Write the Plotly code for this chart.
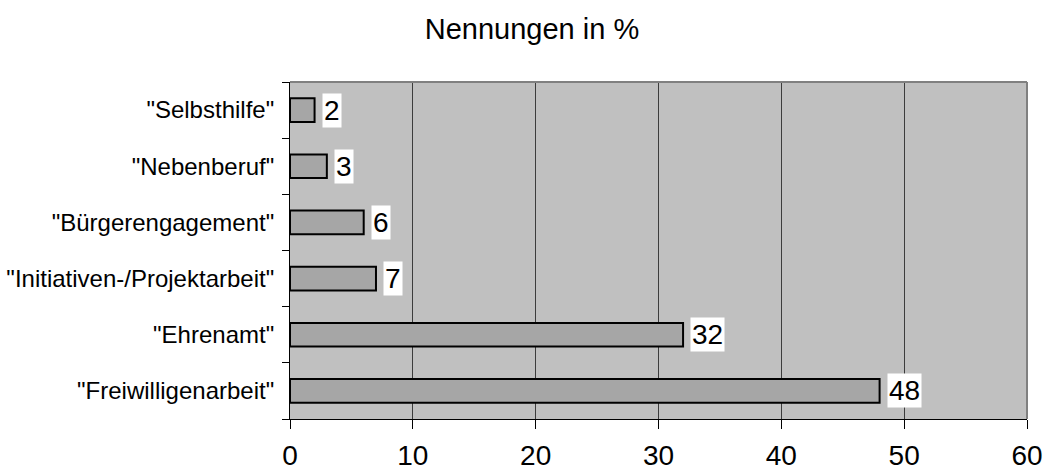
import plotly.graph_objects as go

# Categories (bottom to top) and share of mentions in percent
categories = [
    '"Freiwilligenarbeit"',
    '"Ehrenamt"',
    '"Initiativen-/Projektarbeit"',
    '"Bürgerengagement"',
    '"Nebenberuf"',
    '"Selbsthilfe"',
]
values = [48, 32, 7, 6, 3, 2]
x_ticks = [0, 10, 20, 30, 40, 50, 60]

FONT = "Arial, Liberation Sans, sans-serif"

fig = go.Figure()
fig.add_trace(go.Bar(
    y=categories,
    x=values,
    orientation="h",
    width=0.42,
    marker=dict(color="#a6a6a6", line=dict(color="black", width=2)),
    hoverinfo="x+y",
))

# Value labels in white boxes just past the bar ends
for cat, v in zip(categories, values):
    fig.add_annotation(
        x=v, y=cat, xref="x", yref="y",
        text=str(v), showarrow=False,
        xanchor="left", yanchor="middle", xshift=7,
        bgcolor="white", borderpad=1,
        font=dict(family=FONT, size=28, color="black"),
    )

# Grey frame on the top and right edges of the plot area
fig.add_shape(type="line", xref="paper", yref="paper", x0=0, x1=1, y0=1, y1=1,
              line=dict(color="#808080", width=2))
fig.add_shape(type="line", xref="paper", yref="paper", x0=1, x1=1, y0=0, y1=1,
              line=dict(color="#808080", width=2))

fig.update_layout(
    width=1047, height=473,
    margin=dict(l=290, r=20, t=82, b=54, autoexpand=False),
    paper_bgcolor="white",
    plot_bgcolor="#c0c0c0",
    showlegend=False,
    title=dict(text="Nennungen in %", x=532 / 1047, xanchor="center", xref="container",
               y=1 - 29 / 473, yanchor="middle", yref="container",
               font=dict(family=FONT, size=29, color="black")),
    font=dict(family=FONT, color="black"),
    xaxis=dict(
        range=[0, 60], tickvals=x_ticks, ticktext=[str(t) for t in x_ticks],
        showgrid=True, gridcolor="#3c3c3c", gridwidth=1,
        showline=True, linecolor="black", linewidth=1,
        ticks="outside", ticklen=9, tickcolor="black", tickwidth=1,
        tickfont=dict(family=FONT, size=28, color="black"),
        ticklabelstandoff=2, automargin=False,
        zeroline=False, fixedrange=True,
    ),
    yaxis=dict(
        categoryorder="array", categoryarray=categories,
        showgrid=False,
        showline=True, linecolor="black", linewidth=1,
        ticks="outside", tickson="boundaries", ticklen=7, tickcolor="black",
        tickfont=dict(family=FONT, size=24, color="black"),
        ticklabelstandoff=10, automargin=False,
        fixedrange=True,
    ),
)

fig.write_html("out.html")
